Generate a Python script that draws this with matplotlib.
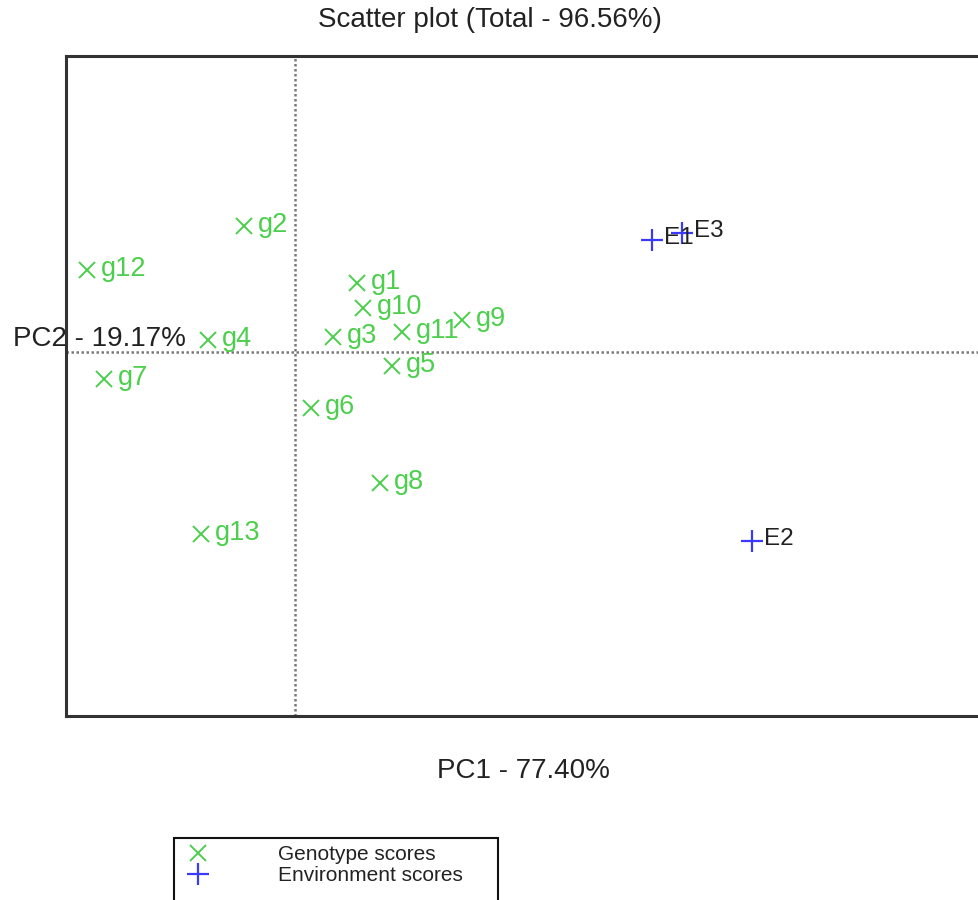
import matplotlib
matplotlib.use("Agg")
import matplotlib.pyplot as plt
from matplotlib.patches import Rectangle

# PCA biplot scores
genotypes = ["g1", "g2", "g3", "g4", "g5", "g6", "g7", "g8", "g9", "g10", "g11", "g12", "g13"]
geno_pc1 = [0.62, -0.51, 0.38, -0.87, 0.97, 0.16, -1.91, 0.85, 1.67, 0.68, 1.07, -2.08, -0.94]
geno_pc2 = [0.69, 1.26, 0.15, 0.12, -0.14, -0.56, -0.27, -1.31, 0.32, 0.44, 0.20, 0.82, -1.82]

environments = ["E1", "E2", "E3"]
env_pc1 = [3.57, 4.57, 3.87]
env_pc2 = [1.12, -1.89, 1.19]

title = "Scatter plot (Total - 96.56%)"
xlab = "PC1 - 77.40%"
ylab = "PC2 - 19.17%"

GREEN = "#4ccf4c"
BLUE = "#3a3aff"
plt.rcParams["font.family"] = ["Liberation Sans", "DejaVu Sans"]

W, H = 979, 900
fig = plt.figure(figsize=(W / 100, H / 100), dpi=100)
# right edge of the frame runs off the picture, as in the reference
ax = fig.add_axes([66 / W, 1 - 716 / H, (1000 - 66) / W, 660 / H])
ax.set_xlim(-2.29, 7.05)
ax.set_ylim(-3.64, 2.96)
ax.set_xticks([])
ax.set_yticks([])
for sp in ax.spines.values():
    sp.set_linewidth(2.2)
    sp.set_color("#333333")

ax.axhline(0, color="#7a7a7a", lw=1.8, ls=(0, (1, 1)), zorder=1)
ax.axvline(0, color="#7a7a7a", lw=1.8, ls=(0, (1, 1)), zorder=1)

hg, = ax.plot(geno_pc1, geno_pc2, ls="none", marker="x", ms=11, mew=1.4,
              color=GREEN, label="Genotype scores", zorder=3)
he, = ax.plot(env_pc1, env_pc2, ls="none", marker="+", ms=16, mew=1.6,
              color=BLUE, label="Environment scores", zorder=3)

for name, x, y in zip(genotypes, geno_pc1, geno_pc2):
    ax.annotate(name, (x, y), xytext=(10, -4.5), textcoords="offset points",
                ha="left", va="baseline", fontsize=19.5, color=GREEN, zorder=4)
for name, x, y in zip(environments, env_pc1, env_pc2):
    ax.annotate(name, (x, y), xytext=(8.5, -3), textcoords="offset points",
                ha="left", va="baseline", fontsize=17.5, color="#222222", zorder=4)

fig.text(0.5, 1 - 20 / H, title, ha="center", va="center", fontsize=20, color="#222222")
fig.text(523 / W, 1 - 771 / H, xlab, ha="center", va="center", fontsize=20, color="#222222")
fig.text(13 / W, 1 - 339 / H, ylab, ha="left", va="center", fontsize=20, color="#222222")

# legend box runs past the bottom edge of the picture
fig.patches.append(Rectangle((174 / W, 1 - 915 / H), 324 / W, 77 / H,
                             transform=fig.transFigure, fill=False,
                             edgecolor="#111111", lw=1.5))
leg = fig.legend(handles=[hg, he], loc="upper left",
                 bbox_to_anchor=(174 / W, 1 - 840 / H, 324 / W, 0.001),
                 mode="expand", fontsize=15, frameon=False,
                 handlelength=1.7, handletextpad=3.0, borderpad=0.3,
                 labelspacing=0.1, borderaxespad=0)
for t in leg.get_texts():
    t.set_color("#222222")

fig.savefig("out.png", dpi=100)
